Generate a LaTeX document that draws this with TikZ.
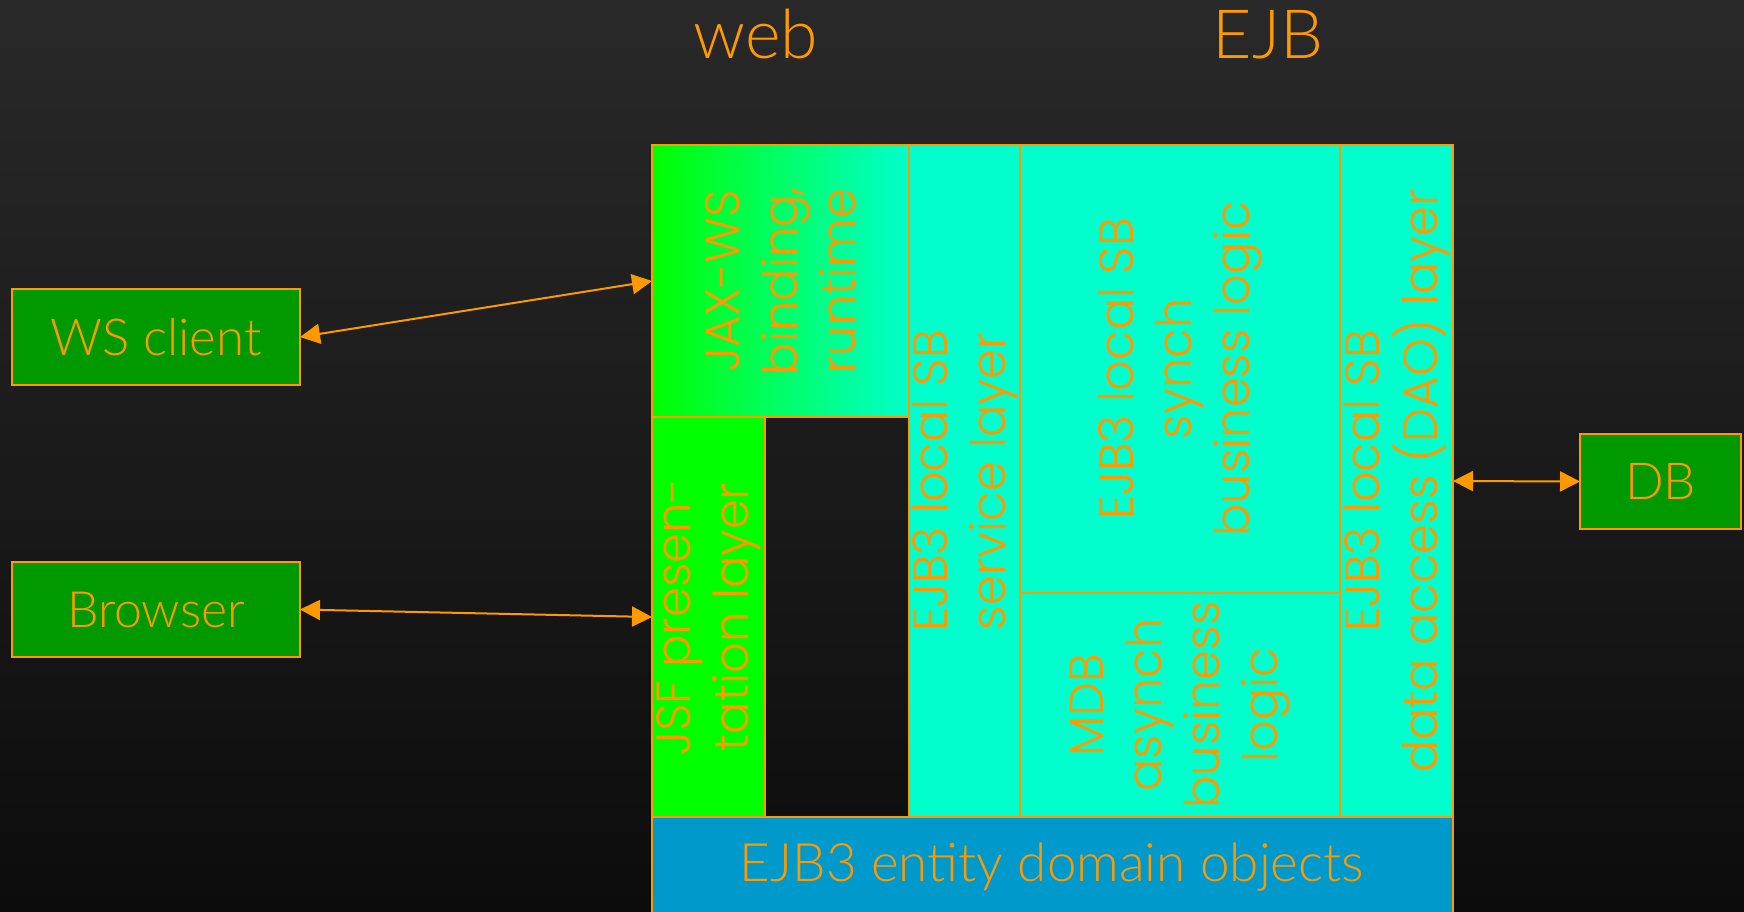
\documentclass[tikz,border=0pt]{standalone}
\usepackage{fontspec}
\setmainfont{Lato Light}
\newfontfamily\gothic{Poppins Light}
\usetikzlibrary{arrows.meta}
\definecolor{ink}{RGB}{255,153,0}
\definecolor{boxgreen}{RGB}{0,153,0}
\definecolor{lime}{RGB}{0,255,0}
\definecolor{aqua}{RGB}{0,255,204}
\definecolor{entityblue}{RGB}{0,153,204}
\definecolor{bgtop}{RGB}{41,41,41}
\definecolor{bgbot}{RGB}{12,12,12}
\begin{document}
\begin{tikzpicture}[x=1pt,y=-1pt,
  cell/.style={draw=ink, line width=2pt, inner sep=0pt, outer sep=0pt, anchor=north west},
  client/.style={cell, fill=boxgreen},
  plainlabel/.style={text=ink, font=\fontsize{51}{56}\selectfont},
  vlabel/.style={rotate=90, align=center, text=ink, inner sep=0pt, font=\gothic\fontsize{48}{58}\selectfont},
  title/.style={text=ink, anchor=base, font=\fontsize{68}{72}\selectfont},
  link/.style={draw=ink, line width=2pt, {Triangle[length=20pt,width=20pt]}-{Triangle[length=20pt,width=20pt]}}
]
% page and background
\useasboundingbox (0,0) rectangle (1744,911);
\clip (0,0) rectangle (1744,911);
\shade[top color=bgtop, bottom color=bgbot] (0,0) rectangle (1744,911);

% headings
\node[title] (tweb) at (756,58) {web};
\node[title] (tejb) at (1268,58) {EJB};

% web tier
\node[cell, minimum width=257pt, minimum height=272pt, left color=lime, right color=aqua] (jax) at (652,145) {};
\node[cell, fill=lime, minimum width=113pt, minimum height=400pt] (jsf) at (652,417) {};

% EJB tier
\node[cell, fill=aqua, minimum width=111pt, minimum height=672pt] (svc) at (909,145) {};
\node[cell, fill=aqua, minimum width=320pt, minimum height=448pt] (synch) at (1020,145) {};
\node[cell, fill=aqua, minimum width=320pt, minimum height=224pt] (mdb) at (1020,593) {};
\node[cell, fill=aqua, minimum width=113pt, minimum height=672pt] (dao) at (1340,145) {};
\node[cell, fill=entityblue, minimum width=801pt, minimum height=110pt] (ent) at (652,817) {};
\node[plainlabel, font=\fontsize{53}{58}\selectfont] (entlbl) at (1052,867) {EJB3 entity domain objects};

% cell captions
\node[vlabel] (jaxlbl) at (jax.center) {JAX-WS\\binding,\\runtime};
\node[vlabel] (jsflbl) at (jsf.center) {JSF presen-\\tation layer};
\node[vlabel] (svclbl) at (svc.center) {EJB3 local SB\\service layer};
\node[vlabel] (synchlbl) at (synch.center) {EJB3 local SB\\synch\\business logic};
\node[vlabel] (mdblbl) at (mdb.center) {MDB\\asynch\\business\\logic};
\node[vlabel] (daolbl) at (dao.center) {EJB3 local SB\\data access (DAO) layer};

% clients and database
\node[client, minimum width=288pt, minimum height=96pt] (ws) at (12,289) {};
\node[plainlabel] (wslbl) at (ws.center) {WS client};
\node[client, minimum width=288pt, minimum height=95pt] (browser) at (12,562) {};
\node[plainlabel, font=\fontsize{50}{56}\selectfont] (browserlbl) at (browser.center) {Browser};
\node[client, minimum width=161pt, minimum height=95pt] (db) at (1580,434) {};
\node[plainlabel] (dblbl) at (db.center) {DB};

% connectors
\draw[link] (ws.east) -- (jax.west);
\draw[link] (browser.east) -- (jsf.west);
\draw[link] (dao.east) -- (db.west);
\end{tikzpicture}
\end{document}
